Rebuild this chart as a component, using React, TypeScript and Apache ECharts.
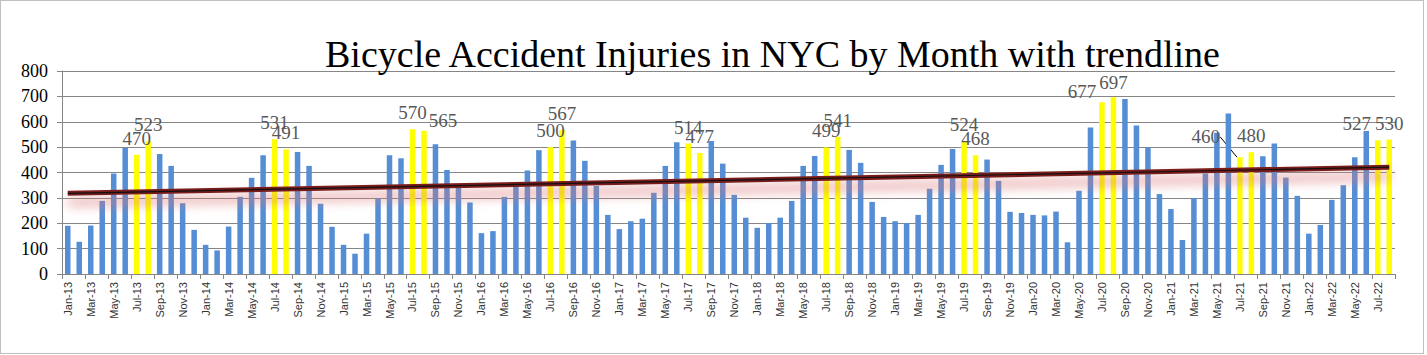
import React, { useEffect, useRef } from "react";
import * as echarts from "echarts";

const monthNames = ["Jan", "Feb", "Mar", "Apr", "May", "Jun", "Jul", "Aug", "Sep", "Oct", "Nov", "Dec"];
const years = ["13", "14", "15", "16", "17", "18", "19", "20", "21", "22"];

const injuries2013 = [190, 127, 191, 288, 396, 497, 470, 523, 473, 426, 279, 174];
const injuries2014 = [115, 93, 187, 304, 379, 468, 531, 491, 481, 426, 277, 186];
const injuries2015 = [115, 80, 159, 298, 468, 456, 570, 565, 511, 410, 341, 282];
const injuries2016 = [161, 169, 304, 345, 408, 488, 500, 567, 526, 446, 347, 233];
const injuries2017 = [177, 208, 218, 320, 426, 519, 514, 477, 524, 435, 312, 222];
const injuries2018 = [182, 201, 222, 288, 426, 465, 499, 541, 489, 438, 284, 225];
const injuries2019 = [208, 201, 233, 336, 430, 493, 524, 468, 451, 367, 245, 240];
const injuries2020 = [233, 231, 246, 125, 328, 577, 677, 697, 690, 585, 499, 315];
const injuries2021 = [256, 134, 299, 396, 557, 633, 460, 480, 464, 514, 380, 308];
const injuries2022 = [159, 193, 292, 350, 460, 564, 527, 530];

const injuries = [
  ...injuries2013, ...injuries2014, ...injuries2015, ...injuries2016, ...injuries2017,
  ...injuries2018, ...injuries2019, ...injuries2020, ...injuries2021, ...injuries2022,
];

const categories: string[] = [];
years.forEach((y) => monthNames.forEach((m) => categories.push(`${m}-${y}`)));
categories.length = injuries.length;

const highlightMonths = ["Jul", "Aug"];
// trendline values read at first and last month
const trendStart = 318;
const trendEnd = 421;

const yTicks = [0, 100, 200, 300, 400, 500, 600, 700, 800];

// label nudges (layout only)
const labelNudge: Record<string, [number, number]> = {
  "Aug-15": [19, 6],
  "Jul-20": [-20, 6],
  "Aug-20": [0, 2],
  "Jul-21": [-34, -4],
  "Jul-22": [-21, 0],
};

export default function App() {
  const ref = useRef<HTMLDivElement>(null);
  useEffect(() => {
    if (!ref.current) return;
    const chart = echarts.init(ref.current, undefined, { renderer: "svg" });
    const barData = injuries.map((v, i) => {
      const cat = categories[i];
      const hl = highlightMonths.includes(cat.slice(0, 3));
      return {
        value: v,
        itemStyle: { color: hl ? "#FFFF00" : "#558ED5" },
        label: { show: hl },
        labelLine: { show: cat === "Jul-21" },
      };
    });
    const trendData = injuries.map((_, i) =>
      i === 0 ? trendStart : i === injuries.length - 1 ? trendEnd : "-"
    );
    chart.setOption({
      animation: false,
      title: {
        text: "Bicycle Accident Injuries in NYC by Month with trendline",
        left: 320,
        top: 30,
        textStyle: { fontFamily: "Liberation Serif", fontSize: 38, fontWeight: "normal", color: "#000" },
      },
      grid: { left: 62, right: 32, top: 71, bottom: 81, containLabel: false },
      xAxis: {
        type: "category",
        data: categories,
        axisLine: { lineStyle: { color: "#868686", width: 1 } },
        axisTick: { show: true, interval: 1, length: 5, lineStyle: { color: "#868686" } },
        axisLabel: {
          interval: 1,
          rotate: 90,
          margin: 8,
          fontFamily: "'Liberation Sans Narrow', 'Liberation Sans', sans-serif",
          fontSize: 11,
          color: "#333",
        },
      },
      yAxis: {
        type: "value",
        min: yTicks[0],
        max: yTicks[yTicks.length - 1],
        interval: 100,
        axisLine: { show: true, lineStyle: { color: "#868686" } },
        axisTick: { show: true, length: 5, lineStyle: { color: "#868686" } },
        splitLine: { lineStyle: { color: "#868686", width: 1 } },
        axisLabel: { margin: 14, fontFamily: "Liberation Serif", fontSize: 18, color: "#000" },
      },
      series: [
        {
          type: "bar",
          data: barData,
          barWidth: "48%",
          label: {
            position: "top",
            distance: 7,
            fontFamily: "Liberation Serif",
            fontSize: 19,
            color: "#595959",
          },
          labelLine: { show: false, lineStyle: { color: "#000", width: 1 } },
          labelLayout: (params: any) => {
            const n = labelNudge[categories[params.dataIndex]];
            return n ? { dx: n[0], dy: n[1] } : {};
          },
        },
        {
          type: "line",
          data: trendData,
          connectNulls: true,
          symbol: "none",
          lineStyle: {
            color: "#7A1E1E",
            width: 5,
            shadowColor: "rgba(220, 120, 120, 0.95)",
            shadowBlur: 12,
            shadowOffsetY: 9,
          },
          z: 3,
        },
        {
          type: "line",
          data: trendData,
          connectNulls: true,
          symbol: "none",
          lineStyle: { color: "#111", width: 1.2 },
          z: 4,
        },
      ],
    });
    return () => chart.dispose();
  }, []);
  return (
    <div style={{ position: "fixed", left: 0, top: 0, width: 1427, height: 355, background: "#fff" }}>
      <div ref={ref} style={{ position: "absolute", left: 0, top: 0, width: 1427, height: 355 }} />
      <div
        style={{
          position: "absolute",
          left: 0,
          top: 0,
          width: 1424,
          height: 354,
          border: "1px solid #BFBFBF",
          boxSizing: "border-box",
          pointerEvents: "none",
        }}
      />
    </div>
  );
}
